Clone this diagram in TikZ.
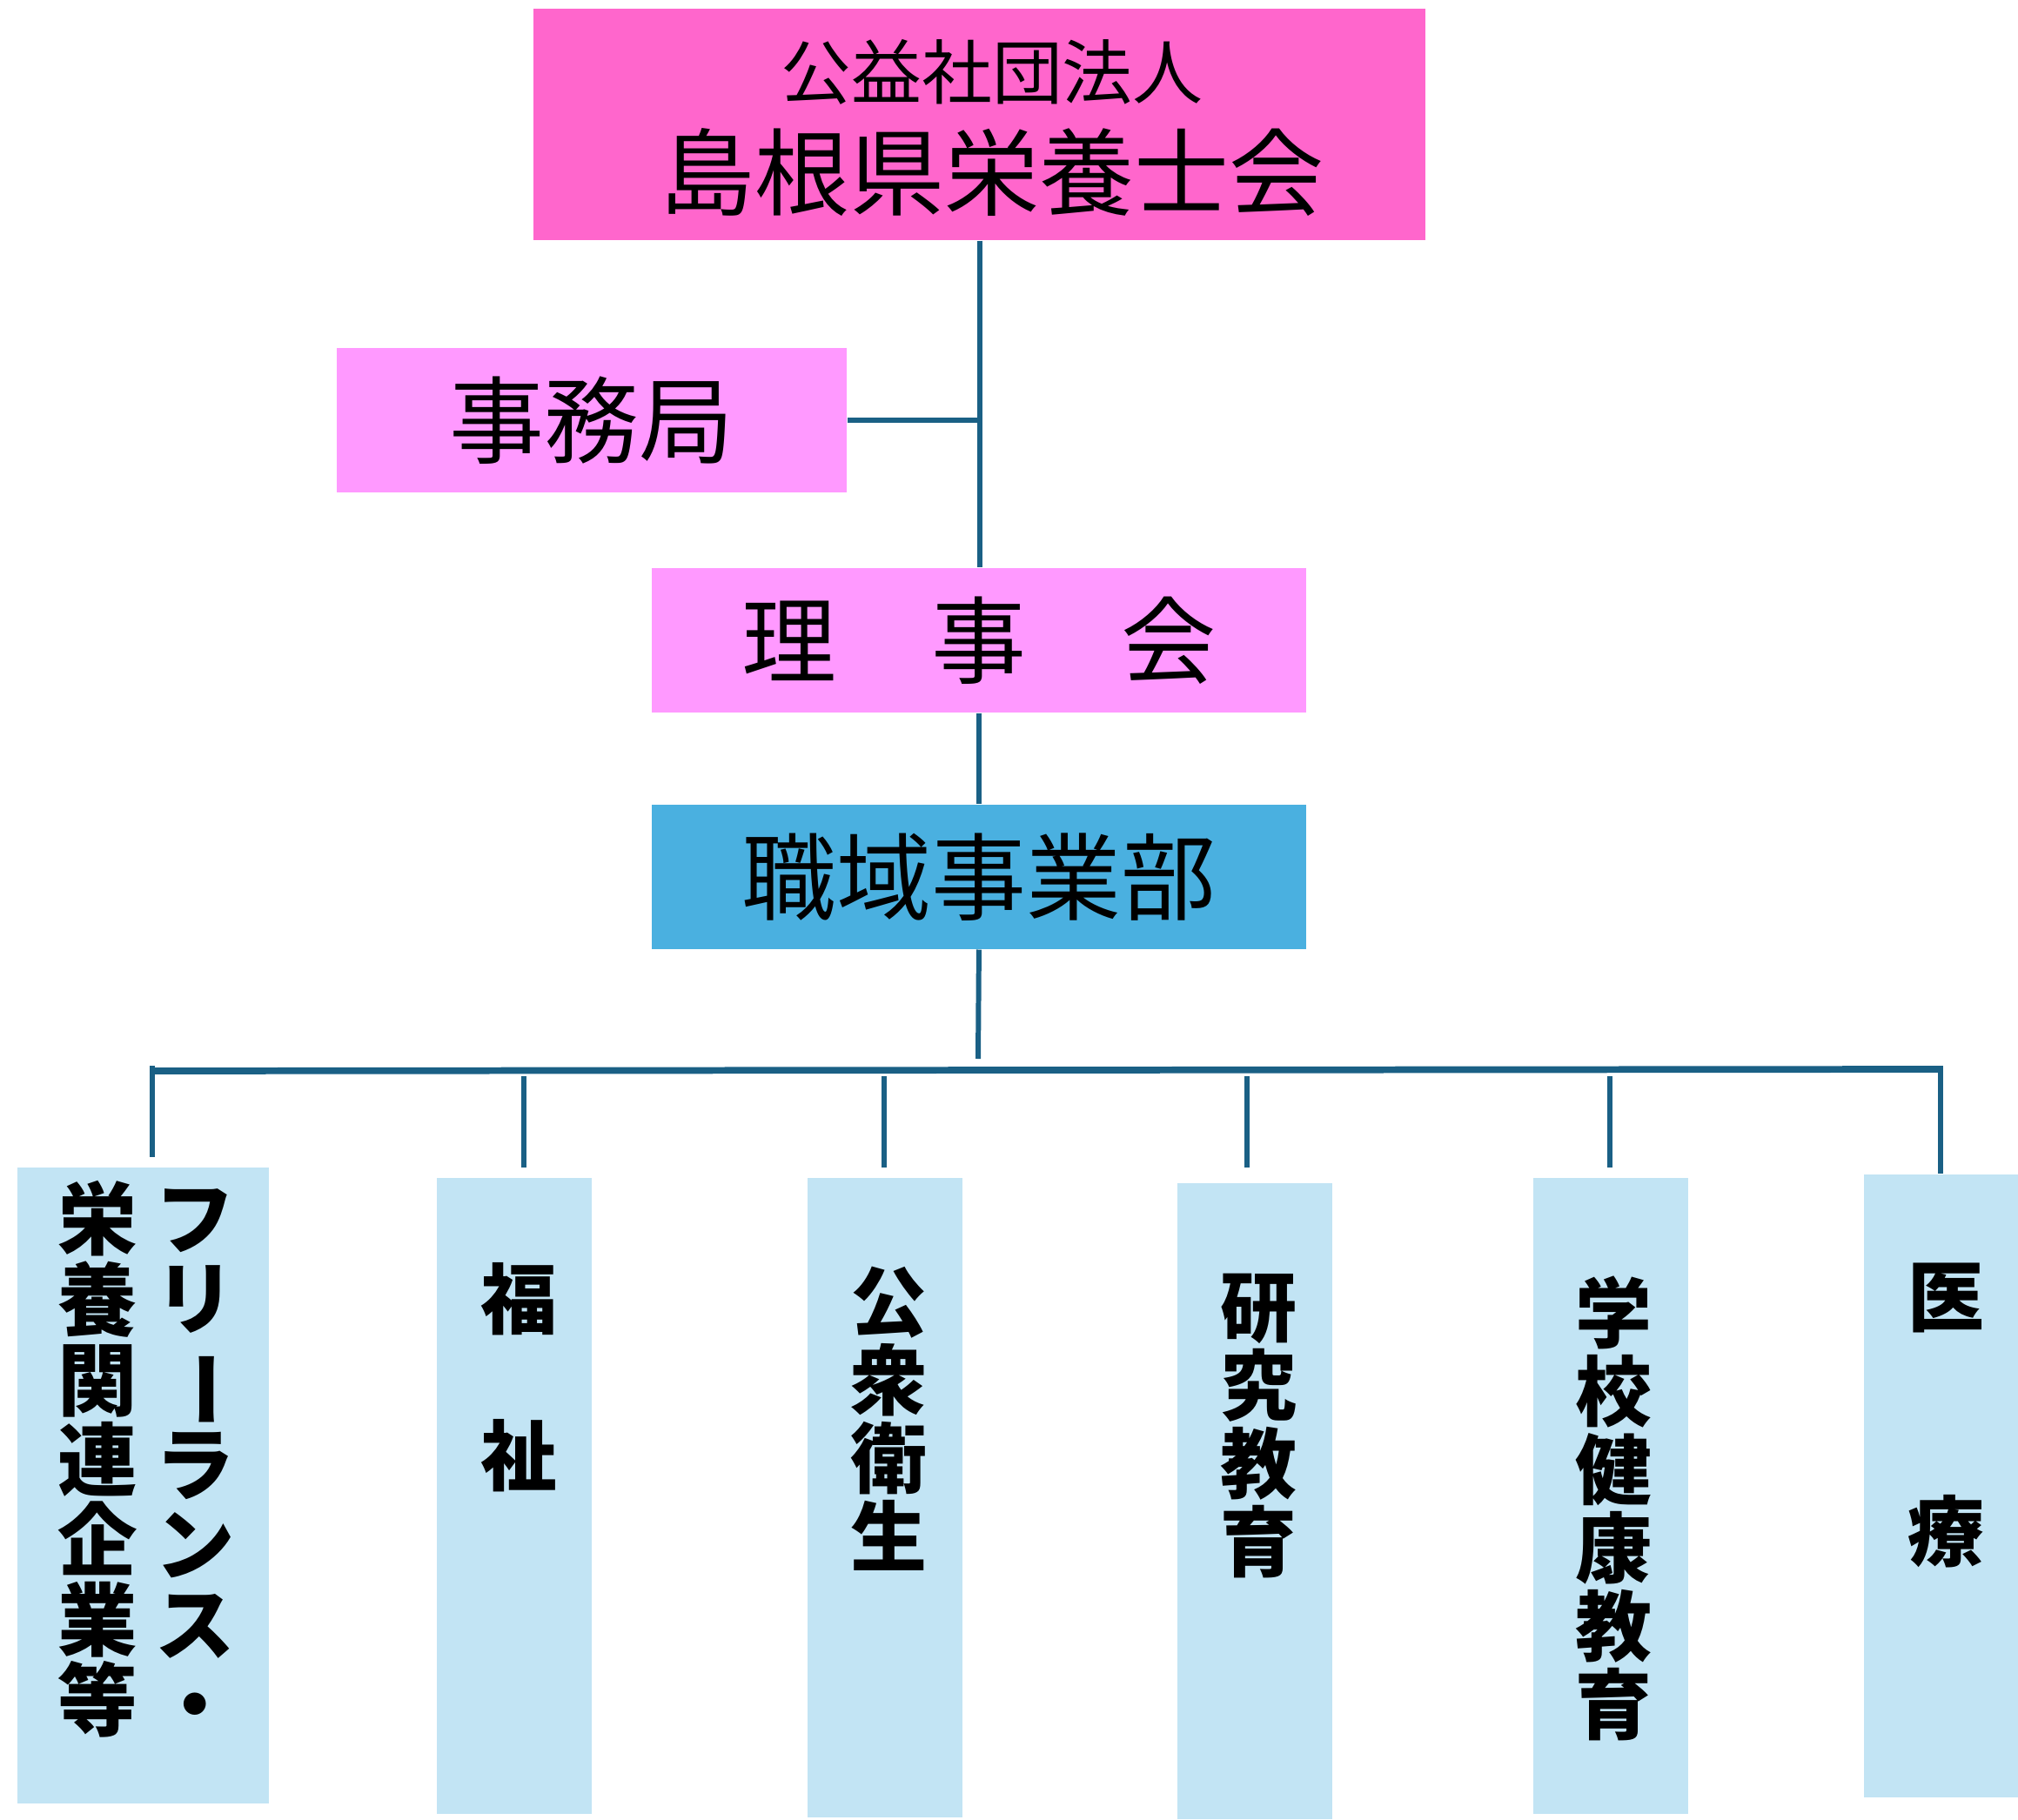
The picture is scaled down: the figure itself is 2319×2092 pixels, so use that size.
\documentclass[tikz,border=0pt]{standalone}
\usepackage{fontspec}
\usepackage{xcolor}
\usetikzlibrary{positioning}
\newfontfamily\jpfont{Noto Sans CJK JP}
\definecolor{hqpink}{HTML}{FF66CC}
\definecolor{softpink}{HTML}{FF99FF}
\definecolor{deptblue}{HTML}{4AB0E0}
\definecolor{fieldblue}{HTML}{C2E4F4}
\definecolor{linkblue}{HTML}{1A6085}
\newcommand{\vchoon}{\rotatebox[origin=c]{-90}{ー}}

\begin{document}
\begin{tikzpicture}[x=0.01cm,y=-0.01cm,
        box/.style={rectangle,inner sep=0pt,anchor=north west},
        hqbox/.style={box,fill=hqpink,minimum width=10.25cm,minimum height=2.66cm},
        pinkbox/.style={box,fill=softpink,minimum height=1.66cm,
          font=\jpfont\fontsize{31}{36}\selectfont},
        deptbox/.style={box,fill=deptblue,minimum width=7.52cm,minimum height=1.66cm,
          font=\jpfont\fontsize{31}{36}\selectfont},
        fieldbox/.style={box,fill=fieldblue,minimum width=1.78cm},
        vlabel/.style={anchor=north,inner sep=0pt,align=center,
          font=\jpfont\bfseries\fontsize{25}{25.6}\selectfont},
        link/.style={draw=linkblue,line width=1.7pt},
        bus/.style={draw=linkblue,line width=2.2pt}]
  \useasboundingbox (0,0) rectangle (2319,2092);

  % head office
  \node[hqbox] (hq) at (612,9) {};
  \node[font=\jpfont\fontsize{23}{28}\selectfont] (hq-sub) at (1140,83) {公益社団法人};
  \node[font=\jpfont\fontsize{31}{36}\selectfont] (hq-name) at (1140,198) {島根県栄養士会};

  \node[pinkbox,minimum width=5.86cm] (jimu) at (386,399) {事務局};
  \node[pinkbox,minimum width=7.52cm] (riji) at (748,652) {理　事　会};
  \node[deptbox] (shokuiki) at (748,924) {職域事業部};

  % fields
  \node[fieldbox,minimum width=2.89cm,minimum height=7.31cm] (free) at (19,1341) {};
  \node[fieldbox,minimum height=7.31cm] (fukushi) at (501,1353) {};
  \node[fieldbox,minimum height=7.35cm] (koshu) at (927,1353) {};
  \node[fieldbox,minimum height=7.31cm] (kenkyu) at (1352,1359) {};
  \node[fieldbox,minimum height=7.31cm] (gakko) at (1761,1353) {};
  \node[fieldbox,minimum height=7.16cm] (iryo) at (2141,1349) {};

  \node[vlabel,font=\jpfont\bfseries\fontsize{26}{26.2}\selectfont] (free-t1) at (224,1366)
    {フ\\リ\\\vchoon\\ラ\\ン\\ス\\・};
  \node[vlabel,font=\jpfont\bfseries\fontsize{26}{26.2}\selectfont] (free-t2) at (112,1357)
    {栄\\養\\関\\連\\企\\業\\等};
  \node[vlabel] (fukushi-t) at (596,1451) {福\\　\\祉};
  \node[vlabel] (koshu-t) at (1021,1455) {公\\衆\\衛\\生};
  \node[vlabel] (kenkyu-t) at (1446,1463) {研\\究\\教\\育};
  \node[vlabel] (gakko-t) at (1854,1466) {学\\校\\健\\康\\教\\育};
  \node[vlabel] (iryo-t) at (2236,1451) {医\\　\\　\\療};

  % connectors
  \draw[link] (hq.south) -- (hq.south |- riji.north);
  \draw[link] (jimu.east) -- (jimu.east -| hq.south);
  \draw[link] (riji.south) -- (shokuiki.north);
  \coordinate (busc) at (1124,1217);
  \draw[link] (shokuiki.south) -- (busc);
  \coordinate (busl) at (175,1231);
  \coordinate (busr) at (2230,1229);
  \draw[bus] (busl) -- (busr);
  \draw[link] ([yshift=0.06cm]busl) -- ([yshift=0.11cm]busl |- free.north);
  \draw[link] ([yshift=0.04cm]busr) -- (busr |- iryo.north);
  \foreach \x/\f in {602/fukushi,1016/koshu,1433/kenkyu,1850/gakko}{
    \draw[link] (\x,1237) -- (\x,1342);
  }
\end{tikzpicture}
\end{document}
